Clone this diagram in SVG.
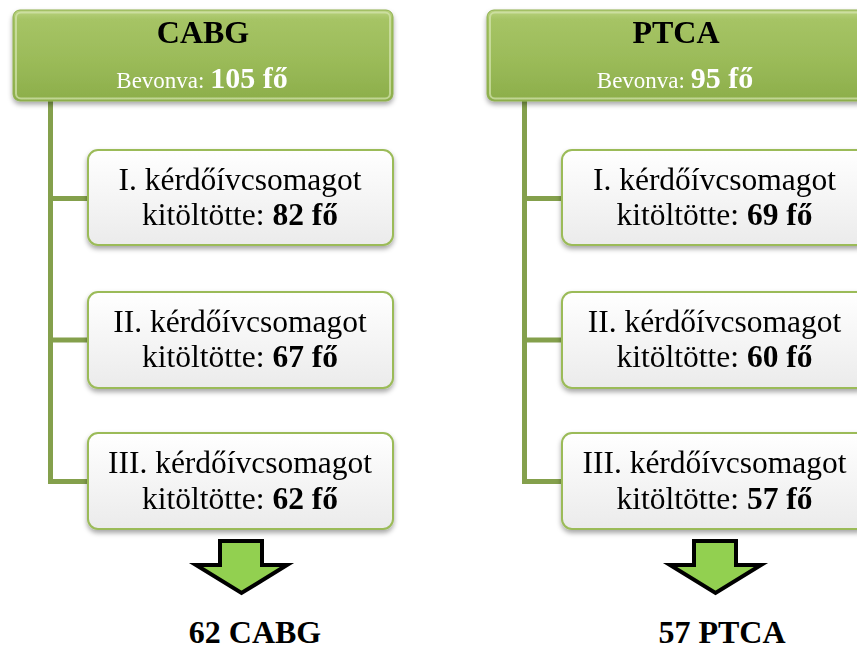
<svg xmlns="http://www.w3.org/2000/svg" width="857" height="650" viewBox="0 0 857 650">
  <defs>
    <linearGradient id="headFill" x1="0" y1="0" x2="0" y2="1">
      <stop offset="0" stop-color="#B9D27F"/>
      <stop offset="0.1" stop-color="#A6C465"/>
      <stop offset="0.55" stop-color="#9BBB59"/>
      <stop offset="1" stop-color="#8CAE4A"/>
    </linearGradient>
    <linearGradient id="childFill" x1="0" y1="0" x2="0" y2="1">
      <stop offset="0" stop-color="#FFFFFF"/>
      <stop offset="1" stop-color="#EBEBEB"/>
    </linearGradient>
    <filter id="shadow" x="-10%" y="-10%" width="120%" height="130%">
      <feDropShadow dx="0" dy="3" stdDeviation="2.5" flood-color="#000" flood-opacity="0.35"/>
    </filter>
  </defs>
  <style>
    .head rect.box { fill: url(#headFill); stroke: #8EAF4F; stroke-width: 1; }
    .head rect.bevel { fill: none; stroke: #D6E6B0; stroke-width: 2; stroke-opacity: 0.7; }
    .child rect { fill: url(#childFill); stroke: #9BBB59; stroke-width: 2; }
    .conn { fill: none; stroke: #84A04C; stroke-width: 5; stroke-linejoin: miter; }
    .arrow { fill: #92D050; stroke: #000; stroke-width: 4; stroke-linejoin: miter; }
    text { font-family: "Liberation Serif", "Times New Roman", serif; text-anchor: middle; }
    .title { font-size: 32px; font-weight: bold; fill: #000; }
    .sub { font-size: 23px; fill: #fff; }
    .subNum { font-size: 30px; font-weight: bold; fill: #fff; }
    .ct { font-size: 31.5px; fill: #000; }
    .b { font-weight: bold; }
    .result { font-size: 32px; font-weight: bold; fill: #000; }
  </style>

  <!-- tree connectors -->
  <g id="connectors">
    <path class="conn" d="M50.5 100 V481.5 H89 M50.5 198.5 H89 M50.5 340 H89"/>
    <path class="conn" d="M524.5 100 V481.5 H563 M524.5 198.5 H563 M524.5 340 H563"/>
  </g>

  <!-- CABG branch -->
  <g id="cabg-head" class="head" filter="url(#shadow)">
    <rect class="box" x="13" y="10" width="380" height="91" rx="7"/>
    <rect class="bevel" x="16" y="12.5" width="374" height="86" rx="5"/>
    <text class="title" x="203" y="43">CABG</text>
    <text x="202" y="88"><tspan class="sub">Bevonva: </tspan><tspan class="subNum">105 fő</tspan></text>
  </g>
  <g id="cabg-1" class="child" filter="url(#shadow)">
    <rect x="88" y="150" width="305" height="95" rx="10"/>
    <text class="ct" x="240" y="189.5">I. kérdőívcsomagot<tspan x="240" dy="35.5">kitöltötte: </tspan><tspan class="b">82 fő</tspan></text>
  </g>
  <g id="cabg-2" class="child" filter="url(#shadow)">
    <rect x="88" y="292" width="305" height="96" rx="10"/>
    <text class="ct" x="240" y="331.5">II. kérdőívcsomagot<tspan x="240" dy="35.5">kitöltötte: </tspan><tspan class="b">67 fő</tspan></text>
  </g>
  <g id="cabg-3" class="child" filter="url(#shadow)">
    <rect x="88" y="433" width="305" height="96" rx="10"/>
    <text class="ct" x="240" y="473">III. kérdőívcsomagot<tspan x="240" dy="35.5">kitöltötte: </tspan><tspan class="b">62 fő</tspan></text>
  </g>
  <g id="cabg-result">
    <polygon class="arrow" points="220,541 262,541 262,565 287,565 241.5,593 196,565 220,565"/>
    <text class="result" x="255" y="643">62 CABG</text>
  </g>

  <!-- PTCA branch -->
  <g id="ptca-head" class="head" filter="url(#shadow)">
    <rect class="box" x="487" y="10" width="380" height="91" rx="7"/>
    <rect class="bevel" x="490" y="12.5" width="374" height="86" rx="5"/>
    <text class="title" x="676" y="43">PTCA</text>
    <text x="675" y="88"><tspan class="sub">Bevonva: </tspan><tspan class="subNum">95 fő</tspan></text>
  </g>
  <g id="ptca-1" class="child" filter="url(#shadow)">
    <rect x="562" y="150" width="305" height="95" rx="10"/>
    <text class="ct" x="714.5" y="189.5">I. kérdőívcsomagot<tspan x="714.5" dy="35.5">kitöltötte: </tspan><tspan class="b">69 fő</tspan></text>
  </g>
  <g id="ptca-2" class="child" filter="url(#shadow)">
    <rect x="562" y="292" width="305" height="96" rx="10"/>
    <text class="ct" x="714.5" y="331.5">II. kérdőívcsomagot<tspan x="714.5" dy="35.5">kitöltötte: </tspan><tspan class="b">60 fő</tspan></text>
  </g>
  <g id="ptca-3" class="child" filter="url(#shadow)">
    <rect x="562" y="433" width="305" height="96" rx="10"/>
    <text class="ct" x="714.5" y="473">III. kérdőívcsomagot<tspan x="714.5" dy="35.5">kitöltötte: </tspan><tspan class="b">57 fő</tspan></text>
  </g>
  <g id="ptca-result">
    <polygon class="arrow" points="694,541 736,541 736,565 761,565 715.5,593 670,565 694,565"/>
    <text class="result" x="722" y="643">57 PTCA</text>
  </g>
</svg>
